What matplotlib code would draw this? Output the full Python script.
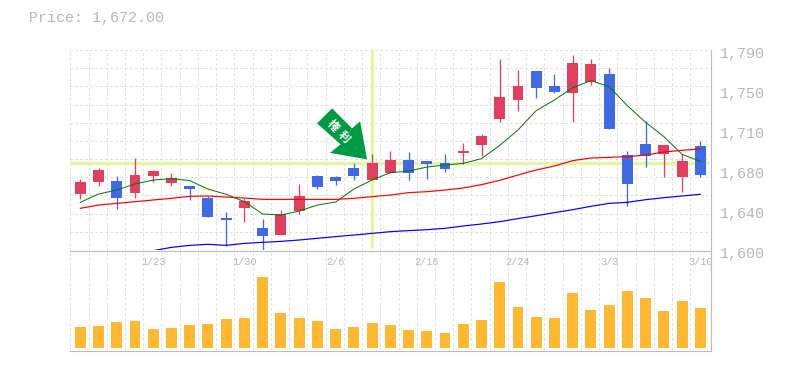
#!/usr/bin/env python3
import matplotlib
matplotlib.use("Agg")
import matplotlib.pyplot as plt
from matplotlib.patches import Polygon

W, H = 785, 370

# b = down day, r = up day
colors = list("rrbrrrbbbrbrrbbbrrbbbrrrrbbrrbbbrrb")
body_top = [1664.6, 1676.0, 1665.6, 1671.3, 1675.1, 1668.4, 1660.8, 1649.4, 1630.4, 1646.6, 1620.9, 1634.2,
            1651.3, 1670.3, 1669.4, 1677.9, 1682.7, 1685.5, 1685.5, 1684.6, 1682.7, 1694.1, 1708.3, 1745.4,
            1755.8, 1770.1, 1755.8, 1777.7, 1776.7, 1767.2, 1690.3, 1700.7, 1699.8, 1684.6, 1698.8]
body_bot = [1653.2, 1664.6, 1649.4, 1654.2, 1670.3, 1663.7, 1658.0, 1631.4, 1628.5, 1639.9, 1613.3, 1614.3,
            1637.1, 1659.9, 1665.6, 1670.3, 1666.5, 1673.2, 1673.2, 1681.7, 1677.0, 1692.2, 1699.8, 1724.5,
            1742.5, 1753.9, 1750.1, 1749.2, 1759.6, 1715.0, 1662.7, 1689.3, 1691.2, 1669.4, 1671.3]
highs = [1667.5, 1677.9, 1670.3, 1687.4, 1676.0, 1673.2, 1660.8, 1651.3, 1636.1, 1649.4, 1629.5, 1638.0,
         1662.7, 1671.3, 1670.3, 1682.7, 1691.2, 1694.1, 1693.1, 1684.6, 1691.2, 1701.7, 1710.2, 1781.5,
         1771.0, 1770.1, 1767.2, 1785.3, 1781.5, 1772.9, 1694.1, 1722.6, 1699.8, 1691.2, 1703.6]
lows = [1648.5, 1660.8, 1639.0, 1649.4, 1664.6, 1660.8, 1647.5, 1631.4, 1603.8, 1626.6, 1599.0, 1614.3,
        1634.2, 1658.0, 1661.8, 1666.5, 1666.5, 1673.2, 1666.5, 1667.5, 1674.1, 1681.7, 1689.3, 1721.6,
        1732.1, 1744.4, 1749.2, 1721.6, 1756.8, 1715.0, 1641.8, 1678.9, 1669.4, 1655.1, 1669.4]
ma_short = [1645.3, 1653.2, 1657.0, 1662.7, 1666.5, 1667.8, 1665.9, 1657.9, 1652.9, 1645.9, 1634.2, 1633.2,
            1637.0, 1642.7, 1645.6, 1657.9, 1666.5, 1673.5, 1675.0, 1678.8, 1680.7, 1682.3, 1686.8, 1699.4,
            1714.0, 1732.4, 1742.5, 1754.2, 1760.9, 1755.2, 1737.1, 1721.3, 1707.7, 1690.9, 1684.2]
ma_mid = [1639.6, 1642.7, 1644.3, 1645.9, 1647.5, 1649.1, 1651.0, 1651.3, 1650.3, 1649.4, 1648.1, 1648.1,
          1648.1, 1648.1, 1648.1, 1649.1, 1650.7, 1652.2, 1654.5, 1655.4, 1657.0, 1658.9, 1662.1, 1666.2,
          1671.2, 1676.0, 1679.8, 1684.9, 1687.4, 1688.0, 1688.7, 1690.2, 1693.1, 1694.7, 1696.0]
ma_long = [None, None, None, None, 1599.4, 1602.5, 1604.4, 1605.4, 1604.4, 1606.3, 1607.3, 1608.2,
           1609.5, 1611.1, 1612.7, 1614.2, 1615.8, 1617.4, 1618.4, 1619.3, 1620.6, 1622.8, 1624.7, 1626.9,
           1629.8, 1632.6, 1635.5, 1638.3, 1641.5, 1644.3, 1645.3, 1647.8, 1649.7, 1651.3, 1652.9]
volume = [21, 22, 26, 27, 19, 20, 23, 24, 29, 30, 71, 35, 30, 27, 19, 21, 25, 23,
          18, 17, 15, 24, 28, 66, 41, 31, 30, 55, 38, 43, 57, 50, 37, 47, 40]

price_ticks = [1790, 1752, 1714, 1676, 1638, 1600]
price_labels = ["1,790", "1,750", "1,710", "1,680", "1,640", "1,600"]
date_idx = [4, 9, 14, 19, 24, 29, 34]
date_labels = ["1/23", "1/30", "2/6", "2/16", "2/24", "3/3", "3/10"]
title = "Price: 1,672.00"
marker_idx = 16
marker_price = 1682.3
marker_text = "権利"

RED = "#e0405f"
BLUE = "#4169e1"
ORANGE = "#ffb833"
GRID = "#e2e2e2"
BORDER = "#bdbdbd"
TEXT = "#b8b8b8"
MARK = "#e4f6a6"
PX = 0.72  # one pixel in points at dpi 100


def panel(top, bottom):
    return plt.axes([70 / W, 1 - bottom / H, 640 / W, (bottom - top) / H])


def style(ax):
    ax.set_xlim(-0.565, 34.53)
    ax.set_xticks([i - 0.55 for i in range(35)])
    ax.tick_params(length=0, labelbottom=False, labelleft=False)
    ax.grid(True, axis="x", color=GRID, lw=PX, dashes=(2.5, 2.5), antialiased=False)
    ax.set_axisbelow(True)
    for s in ax.spines.values():
        s.set_visible(False)


def main():
    fig = plt.figure(figsize=(W / 100, H / 100), dpi=100)
    ax = panel(50, 250)
    vol = panel(250, 350)
    style(ax)
    style(vol)
    xs = list(range(35))

    # price panel
    ax.set_ylim(1600, 1790)
    ax.set_yticks([1600 + i * 190 / 11 for i in range(12)])
    ax.grid(True, axis="y", color=GRID, lw=PX, dashes=(2.5, 2.5), antialiased=False)
    ax.axhline(marker_price, color=MARK, lw=PX * 3.4, zorder=1.5)
    ax.plot([marker_idx, marker_idx], [1601.5, 1790], color=MARK, lw=PX * 3.4, zorder=1.5, solid_capstyle="butt")

    for i in xs:
        c = RED if colors[i] == "r" else BLUE
        ax.plot([i, i], [lows[i], highs[i]], color=c, lw=PX * 1.3, zorder=3, solid_capstyle="butt", clip_on=False)
        ax.bar(i, body_top[i] - body_bot[i], bottom=body_bot[i], width=0.6, color=c, zorder=3, lw=0)

    ax.plot(xs, ma_short, color="#007a00", lw=PX * 1.0, zorder=4)
    ax.plot(xs, ma_mid, color="#ff0000", lw=PX * 1.2, zorder=4)
    ax.plot(xs[4:], ma_long[4:], color="#0000ff", lw=PX * 1.2, zorder=4, clip_on=False)

    # arrow hangs from the marker position, offsets in pixels from its tip
    tip = ax.transData.transform((marker_idx, marker_price))
    arrow_px = [(0, 0), (-37, -6.5), (-26.5, -15), (-50, -36), (-35, -51), (-15, -31), (-7, -38)]
    arrow = Polygon([(tip[0] - 5 + dx, tip[1] + 4 - dy) for dx, dy in arrow_px], closed=True,
                    transform=None, facecolor="#009944", edgecolor="none", zorder=6, clip_on=False)
    fig.add_artist(arrow)
    for ch, dx, dy in zip(marker_text, (-34, -23), (-34, -23)):
        fig.text((tip[0] - 5 + dx) / W, (tip[1] + 4 - dy) / H, ch, color="white", fontsize=8.2, rotation=-45,
                 ha="center", va="center", family=["Noto Sans CJK JP", "DejaVu Sans"], fontweight="bold", zorder=7)

    for p, lab in zip(price_ticks, price_labels):
        ax.annotate(lab, xy=(1, p), xycoords=ax.get_yaxis_transform(), xytext=(10 * PX, -4 * PX),
                    textcoords="offset points", color=TEXT, family="Liberation Mono", fontsize=10.8,
                    va="center", ha="left", annotation_clip=False)

    # volume panel
    vol.set_ylim(-2, 98)
    vol.bar(xs, volume, width=0.6, color=ORANGE, lw=0, zorder=3)
    for i, lab in zip(date_idx, date_labels):
        vol.text(i, 86, lab, color=TEXT, family="Liberation Mono", fontsize=7.4, ha="center", va="center",
                 zorder=4, clip_on=False)

    # frame
    fig.add_artist(plt.Line2D([70 / W, 710 / W], [1 - 250.5 / H] * 2, color=BORDER, lw=PX * 1.2))
    fig.add_artist(plt.Line2D([70 / W, 710 / W], [1 - 350.5 / H] * 2, color=BORDER, lw=PX * 1.2))
    fig.add_artist(plt.Line2D([710.5 / W] * 2, [1 - 350.5 / H, 1 - 50 / H], color=BORDER, lw=PX * 1.2))

    fig.text(29 / W, 1 - 18 / H, title, color=TEXT, family="Liberation Mono", fontsize=10.8, va="center", ha="left")

    fig.savefig("out.png", dpi=100)


if __name__ == "__main__":
    main()
